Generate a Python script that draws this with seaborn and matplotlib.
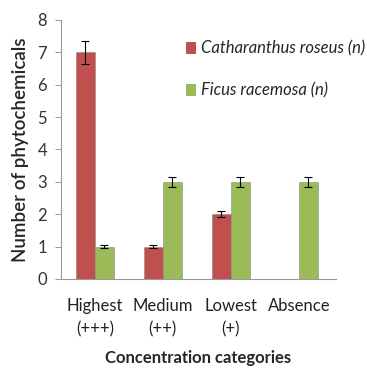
import matplotlib
matplotlib.use("Agg")
import matplotlib.pyplot as plt
import seaborn as sns
import pandas as pd
import numpy as np
from matplotlib.patches import Patch

categories = ["Highest\n(+++)", "Medium\n(++)", "Lowest\n(+)", "Absence"]
series = ["Catharanthus roseus (n)", "Ficus racemosa (n)"]
catharanthus = [7, 1, 2, 0]
ficus = [1, 3, 3, 3]
cath_err = [0.35, 0.04, 0.1, 0]
ficus_err = [0.05, 0.15, 0.15, 0.15]
colors = ["#C0504D", "#9BBB59"]

sns.set_style("white")
plt.rcParams['font.family'] = ['Lato', 'DejaVu Sans']

df = pd.DataFrame({
    "cat": categories * 2,
    "series": [series[0]] * 4 + [series[1]] * 4,
    "value": catharanthus + ficus,
})

fig = plt.figure(figsize=(3.67, 3.68), dpi=100)
ax = fig.add_axes([0.166, 0.242, 0.75, 0.704])
sns.barplot(data=df, x="cat", y="value", hue="series", palette=colors,
            width=0.56, gap=0, errorbar=None, ax=ax, legend=False,
            saturation=1, edgecolor="#8a8a8a", linewidth=0.4)

errs = [cath_err, ficus_err]
vals = [catharanthus, ficus]
bar_conts = list(ax.containers)
for si, cont in enumerate(bar_conts):
    for i, p in enumerate(cont.patches):
        if vals[si][i] == 0:
            continue
        xc = p.get_x() + p.get_width() / 2
        ax.errorbar(xc, vals[si][i], yerr=errs[si][i], color="black",
                    capsize=3, elinewidth=0.8, capthick=0.8)

ax.set_ylim(0, 8)
ax.set_xlim(-0.5, 3.55)
ax.set_yticks(range(0, 9))
ax.tick_params(axis='y', labelsize=12, labelcolor="#333333", color="#888888",
               length=4, width=0.6, direction='out', left=True, pad=6)
ax.tick_params(axis='x', labelsize=12, length=0, pad=14, labelcolor="#222222")
for lbl in ax.get_xticklabels():
    lbl.set_linespacing(1.5)
for s in ["top", "right"]:
    ax.spines[s].set_visible(False)
for s in ["left", "bottom"]:
    ax.spines[s].set_color("#999999")
    ax.spines[s].set_linewidth(0.8)
ax.set_xlabel("Concentration categories", fontsize=12, fontweight="bold", labelpad=9)
ax.set_ylabel("Number of phytochemicals", fontsize=13.5, fontweight="semibold", labelpad=6)

handles = [Patch(facecolor=c, edgecolor="none") for c in colors]
leg = fig.legend(handles, series, loc="upper left", bbox_to_anchor=(0.465, 0.93),
                 frameon=False, handlelength=0.65, handleheight=0.7,
                 handletextpad=0.3, labelspacing=1.55,
                 prop={"style": "italic", "size": 12})

fig.savefig("out.png", dpi=100)
